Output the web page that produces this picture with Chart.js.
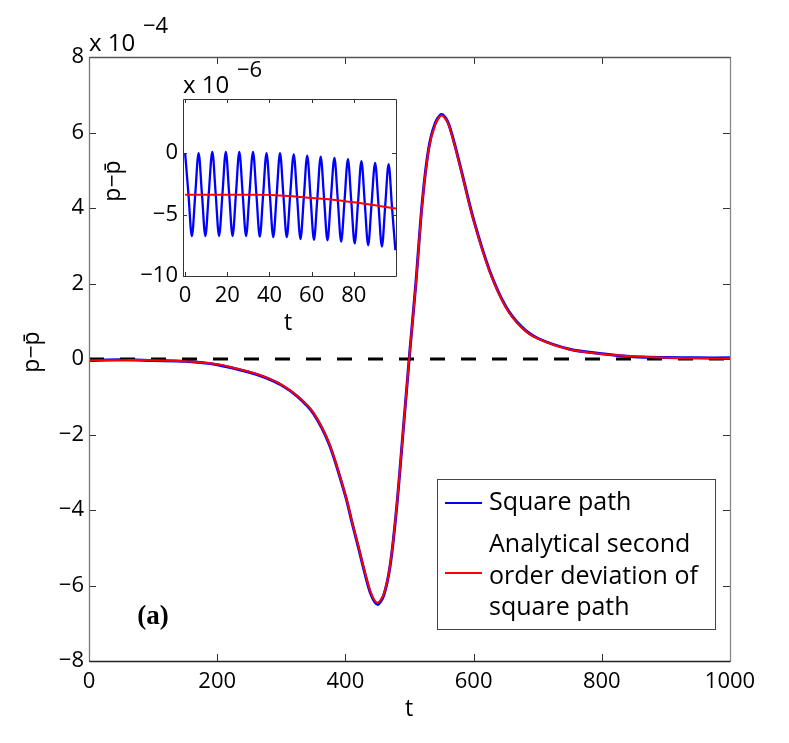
<!DOCTYPE html>
<html>
<head>
<meta charset="utf-8">
<script src="https://cdn.jsdelivr.net/npm/chart.js@4.4.1/dist/chart.umd.min.js"></script>
<style>
  body { margin: 0; background: #fff; }
  #wrap { position: relative; width: 789px; height: 743px; }
  canvas { position: absolute; }
  #main { left: 0; top: 0; }
  #inset { left: 95px; top: 20px; }
</style>
</head>
<body>
<div id="wrap">
  <canvas id="main" width="789" height="743"></canvas>
  <canvas id="inset" width="330" height="325"></canvas>
</div>
<script>
// main panel, values in units of 1e-4
const tMain = [0, 50, 100, 150, 200, 250, 275, 300, 325, 350, 375, 400, 410, 420, 430, 440, 450, 460, 470, 480, 490,
  500, 510, 520, 530, 540, 550, 560, 570, 580, 600, 625, 650, 675, 700, 750, 800, 850, 900, 950, 1000];
const squareMain = [-0.04, -0.02, -0.04, -0.06, -0.15, -0.35, -0.49, -0.69, -0.99, -1.44, -2.27, -3.62, -4.31, -4.97, -5.65, -6.24, -6.5, -6.25, -5.45, -3.93, -1.93,
  0.1, 2.02, 4.17, 5.58, 6.24, 6.48, 6.27, 5.71, 5.05, 3.69, 2.34, 1.4, 0.85, 0.55, 0.26, 0.14, 0.06, 0.04, 0.03, 0.03];
const analyticMain = [-0.03, -0.03, -0.03, -0.06, -0.14, -0.34, -0.48, -0.68, -0.98, -1.42, -2.25, -3.6, -4.29, -4.95, -5.62, -6.2, -6.46, -6.22, -5.43, -3.91, -1.92,
  0.1, 2.0, 4.15, 5.55, 6.2, 6.45, 6.25, 5.69, 5.03, 3.67, 2.32, 1.38, 0.83, 0.54, 0.25, 0.13, 0.07, 0.03, 0.02, 0.01];
const zeroLine = [0, 0];
const zeroT = [0, 1000];
const xTicksMain = [0, 200, 400, 600, 800, 1000];
const yTicksMain = [-8, -6, -4, -2, 0, 2, 4, 6, 8];

// inset, values in units of 1e-6
const tInset = [0, 1.6, 3.2, 4.8, 6.4, 8.0, 9.6, 11.2, 12.9, 14.5, 16.1, 17.7, 19.3, 20.9, 22.5, 24.1, 25.7, 27.3, 28.9, 30.5,
  32.2, 33.8, 35.4, 37.0, 38.6, 40.2, 41.8, 43.4, 45.0, 46.6, 48.2, 49.8, 51.5, 53.1, 54.7, 56.3, 57.9, 59.5, 61.1, 62.7,
  64.3, 65.9, 67.5, 69.1, 70.8, 72.4, 74.0, 75.6, 77.2, 78.8, 80.4, 82.0, 83.6, 85.2, 86.8, 88.4, 90.1, 91.7, 93.3, 94.9,
  96.5, 98.1, 99.7];
const squareInset = [0.0, -3.38, -6.75, -3.38, 0.0, -3.38, -6.75, -3.33, 0.1, -3.33, -6.75, -3.33, 0.1, -3.33, -6.75, -3.33, 0.1, -3.33, -6.75, -3.33,
  0.1, -3.35, -6.8, -3.4, 0.0, -3.43, -6.85, -3.43, 0.0, -3.43, -6.85, -3.48, -0.1, -3.55, -7.0, -3.6, -0.2, -3.63, -7.05, -3.68,
  -0.3, -3.7, -7.1, -3.75, -0.4, -3.8, -7.2, -3.85, -0.5, -3.93, -7.35, -4.0, -0.65, -4.08, -7.5, -4.15, -0.8, -4.2, -7.6, -4.25,
  -0.9, -4.4, -7.9];
const tInsetRed = [0, 10, 20, 30, 40, 45, 50, 55, 60, 65, 70, 75, 80, 85, 90, 95, 100];
const analyticInset = [-3.39, -3.39, -3.39, -3.39, -3.4, -3.45, -3.5, -3.58, -3.65, -3.72, -3.8, -3.9, -4.0, -4.12, -4.25, -4.38, -4.5];
const xTicksInset = [0, 20, 40, 60, 80];
const yTicksInset = [-10, -5, 0];

const legendLabels = ['Square path', ['Analytical second', 'order deviation of', 'square path']];

const FONT = "'Open Sans', sans-serif";
const fmt = v => v < 0 ? '\u2212' + (-v) : String(v);
const xy = (xs, ys) => xs.map((x, i) => ({ x: x, y: ys[i] }));

// box round the axes, inward ticks on all four sides, free text
const framePlugin = {
  id: 'frame',
  beforeDatasetsDraw(chart, args, o) {
    if (!o.fill) return;
    const a = chart.chartArea;
    chart.ctx.save();
    chart.ctx.fillStyle = '#fff';
    chart.ctx.fillRect(a.left, a.top, a.right - a.left, a.bottom - a.top);
    chart.ctx.restore();
  },
  afterDraw(chart, args, o) {
    const { ctx, chartArea: a, scales: { x, y } } = chart;
    const L = o.tickLen;
    ctx.save();
    ctx.lineWidth = 1;
    ctx.strokeStyle = o.tickColor;
    ctx.beginPath();
    x.ticks.forEach(t => {
      const px = Math.round(x.getPixelForValue(t.value)) + 0.5;
      ctx.moveTo(px, a.bottom); ctx.lineTo(px, a.bottom - L);
      ctx.moveTo(px, a.top); ctx.lineTo(px, a.top + L);
    });
    y.ticks.forEach(t => {
      const py = Math.round(y.getPixelForValue(t.value)) + 0.5;
      ctx.moveTo(a.left, py); ctx.lineTo(a.left + L, py);
      ctx.moveTo(a.right, py); ctx.lineTo(a.right - L, py);
    });
    ctx.stroke();

    const l = Math.round(a.left) + 0.5, r = Math.round(a.right) + 0.5;
    const tp = Math.round(a.top) + 0.5, b = Math.round(a.bottom) + 0.5;
    const side = (c, x1, y1, x2, y2) => {
      ctx.strokeStyle = c; ctx.lineWidth = o.boxWidth;
      ctx.beginPath(); ctx.moveTo(x1, y1); ctx.lineTo(x2, y2); ctx.stroke();
    };
    side(o.boxColors.top, l, tp, r, tp);
    side(o.boxColors.right, r, tp, r, b);
    side(o.boxColors.left, l, tp, l, b);
    side(o.boxColors.bottom, l, b, r, b);

    ctx.fillStyle = '#000';
    o.texts.forEach(t => {
      ctx.save();
      ctx.font = t.font;
      ctx.textAlign = t.align || 'left';
      ctx.textBaseline = t.baseline || 'alphabetic';
      ctx.translate(t.x, t.y);
      if (t.rotate) ctx.rotate(t.rotate);
      ctx.fillText(t.text, 0, 0);
      ctx.restore();
    });
    ctx.restore();
  }
};

const legendPlugin = {
  id: 'boxLegend',
  afterDraw(chart, args, o) {
    const ctx = chart.ctx;
    ctx.save();
    ctx.fillStyle = '#fff';
    ctx.fillRect(o.x, o.y, o.w, o.h);
    ctx.strokeStyle = '#444';
    ctx.lineWidth = 1;
    ctx.strokeRect(o.x + 0.5, o.y + 0.5, o.w, o.h);
    ctx.font = o.font;
    ctx.fillStyle = '#000';
    ctx.textBaseline = 'middle';
    o.items.forEach(it => {
      ctx.strokeStyle = it.color;
      ctx.lineWidth = 2;
      ctx.beginPath();
      ctx.moveTo(o.x + 8, it.lineY); ctx.lineTo(o.x + 45, it.lineY);
      ctx.stroke();
      const lines = Array.isArray(it.label) ? it.label : [it.label];
      lines.forEach((s, i) => ctx.fillText(s, o.x + 52, it.textY + i * o.lineGap));
    });
    ctx.restore();
  }
};

const tickFont = { family: FONT, size: 22 };

new Chart(document.getElementById('main'), {
  type: 'line',
  data: {
    datasets: [
      { label: legendLabels[1].join(' '), data: xy(tMain, analyticMain), borderColor: '#ff0000', borderWidth: 2,
        pointRadius: 0, tension: 0.3, order: 0 },
      { label: 'zero', data: xy(zeroT, zeroLine), borderColor: '#000', borderWidth: 3, borderDash: [15, 16],
        pointRadius: 0, order: 1 },
      { label: legendLabels[0], data: xy(tMain, squareMain), borderColor: '#0000ff', borderWidth: 3,
        pointRadius: 0, tension: 0.3, order: 2 }
    ]
  },
  options: {
    responsive: false,
    animation: false,
    devicePixelRatio: 1,
    layout: { padding: { left: 0, top: 57, right: 59, bottom: 0 } },
    plugins: {
      legend: { display: false },
      tooltip: { enabled: false },
      frame: {
        tickLen: 7, tickColor: '#333', boxWidth: 1.3,
        boxColors: { top: '#555', right: '#888', left: '#777', bottom: '#222' },
        texts: [
          { text: 'x 10', x: 89, y: 51, font: '24px ' + FONT },
          { text: '\u22124', x: 143, y: 33, font: '22px ' + FONT },
          { text: 'p\u2212p\u0304', x: 32, y: 352, font: '23px ' + FONT, align: 'center', baseline: 'middle', rotate: -Math.PI / 2 },
          { text: 't', x: 409, y: 709, font: '23px ' + FONT, align: 'center', baseline: 'middle' },
          { text: '(a)', x: 153, y: 617, font: 'bold 27px "Liberation Serif", serif', align: 'center', baseline: 'middle' }
        ]
      },
      boxLegend: {
        x: 437, y: 479, w: 278, h: 150, font: '25px ' + FONT, lineGap: 31.5,
        items: [
          { label: legendLabels[0], color: '#0000ff', lineY: 503, textY: 503 },
          { label: legendLabels[1], color: '#ff0000', lineY: 573, textY: 545 }
        ]
      }
    },
    scales: {
      x: {
        type: 'linear', min: 0, max: 1000,
        afterBuildTicks: s => { s.ticks = xTicksMain.map(v => ({ value: v })); },
        afterFit: s => { s.height = 82; },
        grid: { display: false, drawTicks: false },
        border: { display: false },
        ticks: { font: tickFont, color: '#000', padding: 8, maxRotation: 0, autoSkip: false, callback: fmt }
      },
      y: {
        type: 'linear', min: -8, max: 8,
        afterBuildTicks: s => { s.ticks = yTicksMain.map(v => ({ value: v })); },
        afterFit: s => { s.width = 89; },
        grid: { display: false, drawTicks: false },
        border: { display: false },
        ticks: { font: tickFont, color: '#000', padding: 5, autoSkip: false, callback: fmt }
      }
    }
  },
  plugins: [framePlugin, legendPlugin]
});

new Chart(document.getElementById('inset'), {
  type: 'line',
  data: {
    datasets: [
      { label: 'analytical', data: xy(tInsetRed, analyticInset), borderColor: '#ff0000', borderWidth: 2,
        pointRadius: 0, cubicInterpolationMode: 'monotone', order: 0 },
      { label: 'square', data: xy(tInset, squareInset), borderColor: '#0000ff', borderWidth: 2.3,
        pointRadius: 0, cubicInterpolationMode: 'monotone', order: 1 }
    ]
  },
  options: {
    responsive: false,
    animation: false,
    devicePixelRatio: 1,
    layout: { padding: { left: 0, top: 79, right: 29, bottom: 0 } },
    plugins: {
      legend: { display: false },
      tooltip: { enabled: false },
      frame: {
        fill: true, tickLen: 4, tickColor: '#333', boxWidth: 1,
        boxColors: { top: '#333', right: '#333', left: '#333', bottom: '#333' },
        texts: [
          { text: 'x 10', x: 88, y: 73, font: '24px ' + FONT },
          { text: '\u22126', x: 142, y: 57, font: '22px ' + FONT },
          { text: 'p\u2212p\u0304', x: 18, y: 161, font: '23px ' + FONT, align: 'center', baseline: 'middle', rotate: -Math.PI / 2 },
          { text: 't', x: 193, y: 303, font: '23px ' + FONT, align: 'center', baseline: 'middle' }
        ]
      }
    },
    scales: {
      x: {
        type: 'linear', min: -1, max: 100,
        afterBuildTicks: s => { s.ticks = xTicksInset.map(v => ({ value: v })); },
        afterFit: s => { s.height = 69; },
        grid: { display: false, drawTicks: false },
        border: { display: false },
        ticks: { font: tickFont, color: '#000', padding: 7, maxRotation: 0, autoSkip: false, callback: fmt }
      },
      y: {
        type: 'linear', min: -10, max: 4.4,
        afterBuildTicks: s => { s.ticks = yTicksInset.map(v => ({ value: v })); },
        afterFit: s => { s.width = 88; },
        grid: { display: false, drawTicks: false },
        border: { display: false },
        ticks: { font: tickFont, color: '#000', padding: 5, autoSkip: false, callback: fmt }
      }
    }
  },
  plugins: [framePlugin]
});
</script>
</body>
</html>
